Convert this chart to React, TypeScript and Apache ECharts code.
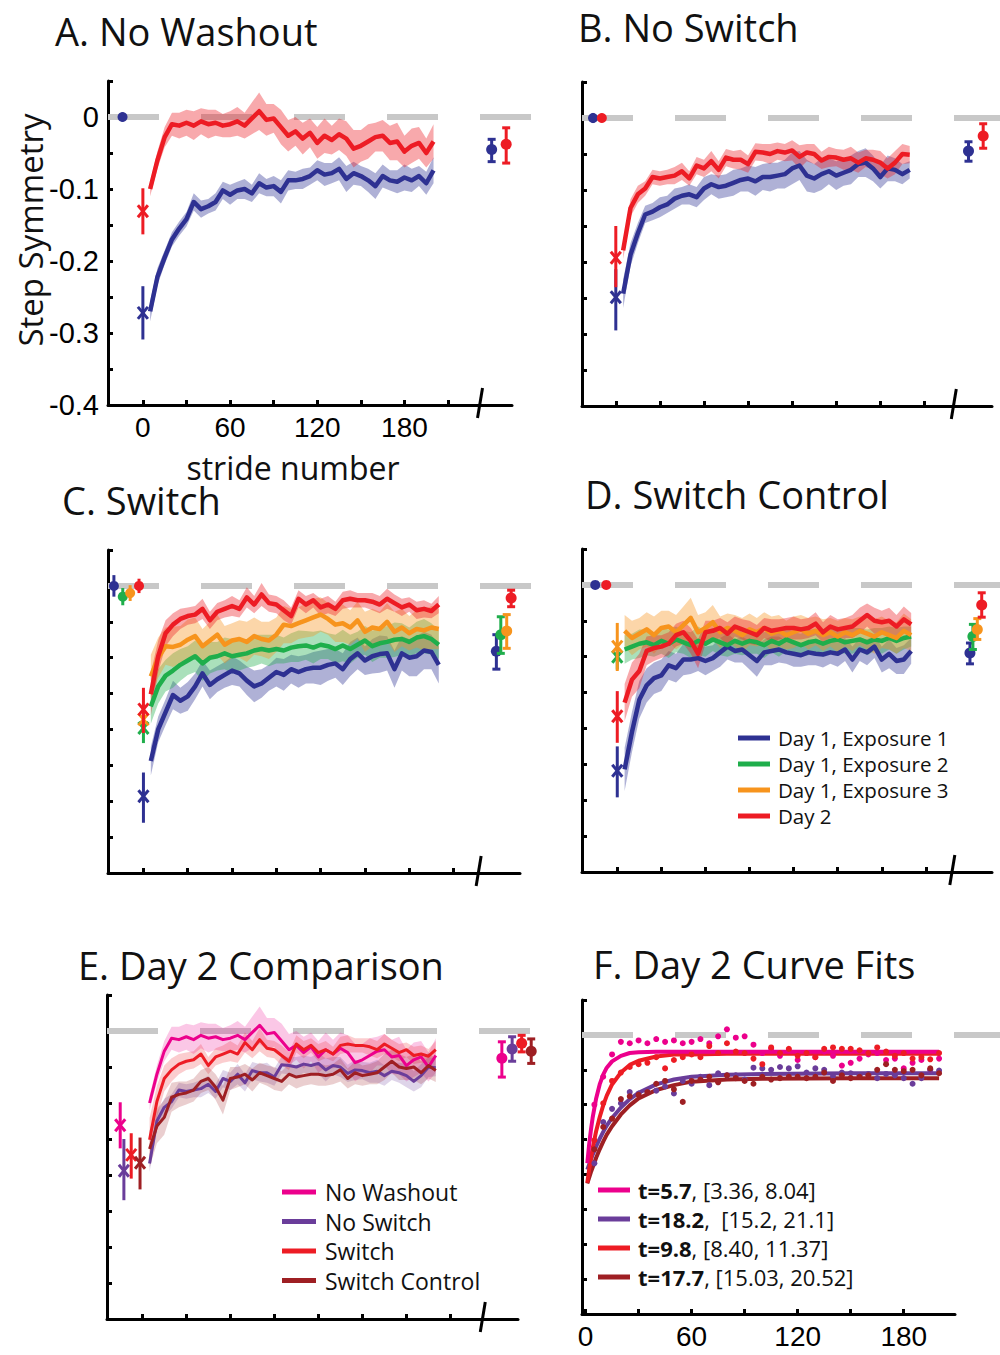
import React, { useEffect, useRef } from "react";
import * as echarts from "echarts";

// ---------------- DATA ----------------
const strides = [5, 10, 15, 20, 25, 30, 35, 40, 45, 50, 55, 60, 65, 70, 75, 80, 85, 90, 95, 100, 105, 110, 115, 120, 125, 130, 135, 140, 145, 150, 155, 160, 165, 170, 175, 180, 185, 190, 195, 200];

// A. No Washout
const nwDay1 = [-0.270, -0.222, -0.195, -0.170, -0.155, -0.142, -0.118, -0.128, -0.124, -0.118, -0.102, -0.108, -0.102, -0.100, -0.106, -0.092, -0.098, -0.096, -0.104, -0.088, -0.088, -0.086, -0.082, -0.074, -0.080, -0.078, -0.072, -0.086, -0.078, -0.082, -0.088, -0.096, -0.082, -0.088, -0.090, -0.084, -0.088, -0.082, -0.092, -0.074];
const nwDay1Sem = [0.014, 0.012, 0.010, 0.010, 0.010, 0.010, 0.012, 0.012, 0.010, 0.012, 0.012, 0.014, 0.012, 0.014, 0.012, 0.014, 0.012, 0.014, 0.016, 0.014, 0.012, 0.014, 0.012, 0.014, 0.016, 0.014, 0.016, 0.018, 0.016, 0.014, 0.016, 0.018, 0.016, 0.014, 0.016, 0.018, 0.016, 0.014, 0.016, 0.018];
const nwDay2 = [-0.100, -0.060, -0.028, -0.010, -0.012, -0.008, -0.012, -0.006, -0.010, -0.008, -0.012, -0.010, -0.006, -0.012, -0.002, 0.008, -0.004, -0.002, -0.014, -0.026, -0.020, -0.030, -0.022, -0.036, -0.026, -0.032, -0.024, -0.030, -0.044, -0.040, -0.034, -0.028, -0.026, -0.036, -0.034, -0.048, -0.040, -0.036, -0.050, -0.034];
const nwDay2Sem = [0.010, 0.012, 0.014, 0.016, 0.018, 0.018, 0.020, 0.018, 0.020, 0.018, 0.016, 0.018, 0.020, 0.018, 0.022, 0.026, 0.022, 0.020, 0.024, 0.022, 0.020, 0.022, 0.020, 0.022, 0.024, 0.020, 0.022, 0.024, 0.026, 0.022, 0.024, 0.020, 0.022, 0.024, 0.026, 0.022, 0.024, 0.022, 0.020, 0.024];

// B. No Switch
const nsDay1 = [-0.244, -0.190, -0.160, -0.134, -0.130, -0.124, -0.120, -0.112, -0.108, -0.106, -0.110, -0.098, -0.092, -0.096, -0.094, -0.090, -0.086, -0.084, -0.088, -0.082, -0.082, -0.080, -0.078, -0.070, -0.066, -0.080, -0.084, -0.078, -0.074, -0.080, -0.076, -0.072, -0.064, -0.062, -0.070, -0.082, -0.070, -0.072, -0.078, -0.072];
const nsDay1Sem = [0.020, 0.016, 0.014, 0.012, 0.012, 0.014, 0.012, 0.014, 0.012, 0.014, 0.014, 0.016, 0.014, 0.016, 0.016, 0.018, 0.016, 0.018, 0.020, 0.018, 0.020, 0.018, 0.020, 0.022, 0.020, 0.022, 0.020, 0.022, 0.018, 0.020, 0.018, 0.020, 0.018, 0.020, 0.018, 0.016, 0.018, 0.016, 0.014, 0.012];
const nsDay2 = [-0.184, -0.125, -0.106, -0.098, -0.082, -0.084, -0.082, -0.080, -0.074, -0.084, -0.066, -0.070, -0.060, -0.072, -0.055, -0.058, -0.058, -0.064, -0.047, -0.048, -0.050, -0.046, -0.048, -0.045, -0.054, -0.048, -0.050, -0.059, -0.054, -0.055, -0.058, -0.056, -0.062, -0.056, -0.058, -0.062, -0.070, -0.062, -0.050, -0.051];
const nsDay2Sem = [0.012, 0.012, 0.012, 0.010, 0.010, 0.010, 0.010, 0.012, 0.012, 0.010, 0.012, 0.012, 0.014, 0.012, 0.012, 0.012, 0.014, 0.012, 0.012, 0.012, 0.014, 0.012, 0.012, 0.014, 0.016, 0.012, 0.014, 0.012, 0.014, 0.012, 0.014, 0.016, 0.014, 0.012, 0.014, 0.016, 0.014, 0.016, 0.014, 0.012];

// C. Switch
const swExp1 = [-0.244, -0.200, -0.176, -0.152, -0.160, -0.154, -0.140, -0.122, -0.138, -0.130, -0.124, -0.118, -0.122, -0.132, -0.140, -0.136, -0.128, -0.120, -0.124, -0.116, -0.120, -0.116, -0.114, -0.114, -0.110, -0.108, -0.116, -0.102, -0.094, -0.104, -0.098, -0.095, -0.094, -0.116, -0.094, -0.100, -0.098, -0.090, -0.092, -0.110];
const swExp1Sem = [0.020, 0.018, 0.018, 0.020, 0.018, 0.020, 0.018, 0.018, 0.020, 0.018, 0.018, 0.020, 0.018, 0.020, 0.022, 0.020, 0.018, 0.020, 0.022, 0.020, 0.022, 0.020, 0.022, 0.024, 0.022, 0.020, 0.022, 0.024, 0.022, 0.020, 0.024, 0.026, 0.024, 0.026, 0.024, 0.026, 0.028, 0.026, 0.024, 0.026];
const swExp2 = [-0.168, -0.140, -0.125, -0.118, -0.110, -0.104, -0.098, -0.108, -0.100, -0.098, -0.094, -0.098, -0.096, -0.094, -0.090, -0.088, -0.090, -0.088, -0.090, -0.086, -0.084, -0.083, -0.086, -0.082, -0.084, -0.088, -0.083, -0.088, -0.082, -0.076, -0.084, -0.080, -0.078, -0.075, -0.074, -0.078, -0.072, -0.070, -0.074, -0.082];
const swExp2Sem = [0.024, 0.024, 0.022, 0.024, 0.022, 0.020, 0.022, 0.024, 0.022, 0.020, 0.022, 0.024, 0.022, 0.020, 0.022, 0.020, 0.022, 0.020, 0.018, 0.020, 0.022, 0.020, 0.022, 0.020, 0.018, 0.020, 0.022, 0.020, 0.018, 0.020, 0.022, 0.020, 0.022, 0.024, 0.022, 0.020, 0.022, 0.024, 0.022, 0.020];
const swExp3 = [-0.126, -0.100, -0.084, -0.085, -0.082, -0.075, -0.070, -0.084, -0.076, -0.068, -0.082, -0.076, -0.074, -0.078, -0.070, -0.074, -0.076, -0.068, -0.054, -0.056, -0.052, -0.048, -0.044, -0.040, -0.046, -0.054, -0.052, -0.058, -0.048, -0.064, -0.058, -0.060, -0.050, -0.064, -0.058, -0.066, -0.060, -0.062, -0.058, -0.060];
const swExp3Sem = [0.030, 0.028, 0.026, 0.028, 0.026, 0.028, 0.026, 0.024, 0.026, 0.028, 0.026, 0.024, 0.026, 0.028, 0.026, 0.024, 0.026, 0.024, 0.026, 0.024, 0.022, 0.024, 0.026, 0.024, 0.022, 0.024, 0.026, 0.024, 0.026, 0.028, 0.026, 0.024, 0.026, 0.028, 0.026, 0.024, 0.026, 0.028, 0.030, 0.028];
const swDay2 = [-0.151, -0.098, -0.066, -0.054, -0.046, -0.042, -0.040, -0.032, -0.048, -0.036, -0.032, -0.028, -0.032, -0.016, -0.026, -0.012, -0.024, -0.026, -0.034, -0.042, -0.018, -0.026, -0.020, -0.030, -0.026, -0.032, -0.020, -0.018, -0.020, -0.020, -0.022, -0.026, -0.018, -0.024, -0.030, -0.026, -0.034, -0.032, -0.035, -0.026];
const swDay2Sem = [0.030, 0.022, 0.018, 0.016, 0.014, 0.012, 0.012, 0.014, 0.012, 0.012, 0.012, 0.014, 0.012, 0.014, 0.012, 0.016, 0.012, 0.012, 0.014, 0.012, 0.012, 0.012, 0.010, 0.012, 0.012, 0.010, 0.012, 0.012, 0.010, 0.010, 0.012, 0.012, 0.014, 0.012, 0.012, 0.010, 0.012, 0.012, 0.010, 0.012];

// D. Switch Control
const scExp1 = [-0.257, -0.205, -0.160, -0.140, -0.130, -0.126, -0.112, -0.116, -0.104, -0.104, -0.102, -0.106, -0.102, -0.094, -0.086, -0.092, -0.090, -0.098, -0.106, -0.094, -0.092, -0.090, -0.094, -0.096, -0.098, -0.094, -0.096, -0.097, -0.094, -0.096, -0.090, -0.104, -0.090, -0.094, -0.086, -0.104, -0.096, -0.106, -0.104, -0.092];
const scExp1Sem = [0.030, 0.028, 0.026, 0.024, 0.022, 0.022, 0.020, 0.020, 0.022, 0.020, 0.018, 0.020, 0.018, 0.020, 0.018, 0.016, 0.018, 0.020, 0.022, 0.018, 0.020, 0.018, 0.016, 0.018, 0.016, 0.018, 0.016, 0.018, 0.016, 0.018, 0.016, 0.018, 0.016, 0.018, 0.016, 0.018, 0.020, 0.018, 0.020, 0.018];
const scExp2 = [-0.090, -0.086, -0.082, -0.080, -0.084, -0.078, -0.082, -0.076, -0.080, -0.084, -0.078, -0.082, -0.076, -0.080, -0.084, -0.078, -0.082, -0.078, -0.080, -0.084, -0.078, -0.082, -0.076, -0.080, -0.084, -0.080, -0.078, -0.082, -0.078, -0.076, -0.080, -0.078, -0.076, -0.080, -0.076, -0.078, -0.074, -0.078, -0.074, -0.072];
const scExp2Sem = [0.020, 0.018, 0.020, 0.018, 0.016, 0.018, 0.020, 0.018, 0.016, 0.018, 0.020, 0.018, 0.016, 0.018, 0.016, 0.018, 0.016, 0.018, 0.016, 0.018, 0.016, 0.018, 0.016, 0.014, 0.016, 0.018, 0.016, 0.018, 0.016, 0.018, 0.016, 0.018, 0.016, 0.018, 0.016, 0.018, 0.016, 0.018, 0.016, 0.014];
const scExp3 = [-0.064, -0.074, -0.068, -0.062, -0.070, -0.060, -0.058, -0.066, -0.056, -0.046, -0.066, -0.060, -0.052, -0.066, -0.060, -0.064, -0.070, -0.062, -0.066, -0.060, -0.068, -0.064, -0.070, -0.066, -0.062, -0.068, -0.064, -0.070, -0.066, -0.072, -0.066, -0.070, -0.064, -0.068, -0.072, -0.066, -0.070, -0.074, -0.064, -0.070];
const scExp3Sem = [0.022, 0.024, 0.022, 0.024, 0.026, 0.024, 0.022, 0.024, 0.026, 0.028, 0.024, 0.022, 0.024, 0.022, 0.020, 0.022, 0.024, 0.022, 0.020, 0.022, 0.024, 0.022, 0.020, 0.022, 0.020, 0.022, 0.020, 0.022, 0.020, 0.022, 0.020, 0.022, 0.020, 0.022, 0.024, 0.022, 0.020, 0.022, 0.024, 0.022];
const scDay2 = [-0.164, -0.132, -0.120, -0.092, -0.088, -0.086, -0.082, -0.070, -0.066, -0.078, -0.096, -0.066, -0.064, -0.060, -0.068, -0.058, -0.062, -0.066, -0.070, -0.060, -0.064, -0.062, -0.060, -0.060, -0.062, -0.060, -0.054, -0.066, -0.058, -0.062, -0.060, -0.058, -0.050, -0.042, -0.050, -0.052, -0.050, -0.058, -0.048, -0.055];
const scDay2Sem = [0.026, 0.024, 0.024, 0.020, 0.018, 0.016, 0.016, 0.016, 0.016, 0.018, 0.020, 0.016, 0.014, 0.014, 0.016, 0.014, 0.014, 0.016, 0.014, 0.014, 0.016, 0.014, 0.014, 0.016, 0.014, 0.014, 0.016, 0.014, 0.016, 0.014, 0.014, 0.016, 0.018, 0.016, 0.018, 0.016, 0.018, 0.016, 0.018, 0.016];

// point estimates: [mean, lower, upper]
const nwBaseline = [[0, -0.006, 0.006]];
const nwFirst = [[-0.272, -0.309, -0.235], [-0.131, -0.163, -0.099]];
const nwPost = [[-0.045, -0.062, -0.031], [-0.038, -0.064, -0.015]];
const nsBaseline = [[0, -0.007, 0.007], [0, -0.006, 0.006]];
const nsFirst = [[-0.249, -0.295, -0.210], [-0.194, -0.235, -0.150]];
const nsPost = [[-0.046, -0.060, -0.033], [-0.025, -0.042, -0.008]];
const swBaseline = [[0, -0.015, 0.015], [-0.015, -0.027, -0.003], [-0.010, -0.021, 0.001], [0, -0.010, 0.010]];
const swFirst = [[-0.293, -0.330, -0.260], [-0.198, -0.219, -0.172], [-0.186, -0.205, -0.165], [-0.172, -0.205, -0.142]];
const swPost = [[-0.091, -0.116, -0.068], [-0.068, -0.094, -0.043], [-0.063, -0.087, -0.040], [-0.017, -0.029, -0.006]];
const scBaseline = [[0, -0.004, 0.004], [0, -0.004, 0.004]];
const scFirst = [[-0.259, -0.296, -0.225], [-0.100, -0.118, -0.086], [-0.086, -0.120, -0.053], [-0.183, -0.220, -0.148]];
const scPost = [[-0.095, -0.110, -0.081], [-0.072, -0.090, -0.055], [-0.062, -0.076, -0.047], [-0.028, -0.045, -0.011]];

// F. exponential fits
const fitStrides = [1, 2, 3, 4, 6, 8, 10, 12, 15, 20, 25, 30, 40, 50, 60, 80, 100, 150, 200];
const fitNoWashout = [-0.184, -0.158, -0.137, -0.119, -0.091, -0.071, -0.057, -0.047, -0.038, -0.030, -0.026, -0.025, -0.024, -0.024, -0.024, -0.024, -0.024, -0.024, -0.024];
const fitNoSwitch = [-0.193, -0.186, -0.179, -0.172, -0.160, -0.149, -0.139, -0.130, -0.119, -0.104, -0.092, -0.083, -0.071, -0.064, -0.060, -0.057, -0.056, -0.055, -0.055];
const fitSwitch = [-0.212, -0.194, -0.178, -0.163, -0.138, -0.118, -0.101, -0.087, -0.071, -0.054, -0.043, -0.037, -0.031, -0.028, -0.028, -0.027, -0.027, -0.027, -0.027];
const fitSwitchControl = [-0.213, -0.205, -0.197, -0.190, -0.176, -0.164, -0.153, -0.143, -0.131, -0.114, -0.101, -0.091, -0.079, -0.072, -0.067, -0.064, -0.063, -0.062, -0.062];

const xTicks = [0, 30, 60, 90, 120, 150, 180, 210];
const xTicksF = [0, 30, 60, 90, 120, 150, 180];
const xLabels = [0, 60, 120, 180];
const yTicks = [-0.4, -0.35, -0.3, -0.25, -0.2, -0.15, -0.1, -0.05, 0, 0.05];
const yLabels = [0, -0.1, -0.2, -0.3, -0.4];

// ---------------- STYLE ----------------
const BLUE = "#2e3192";
const GREEN = "#1fae4b";
const ORANGE = "#f7941d";
const RED = "#ed1c24";
const MAGENTA = "#ec008c";
const PURPLE = "#6a3d9a";
const DARKRED = "#9e1f23";
const SANS = "'Open Sans', sans-serif";
const NUM = "'Liberation Sans', Arial, sans-serif";

const grids = [
  { left: 108, top: 81, width: 404, height: 324, xMin: -24, xMax: 254 },
  { left: 582, top: 82, width: 410, height: 324, xMin: -23, xMax: 256 },
  { left: 108, top: 550, width: 412, height: 323, xMin: -24, xMax: 255 },
  { left: 582, top: 549, width: 410, height: 323, xMin: -24, xMax: 255 },
  { left: 107, top: 995, width: 411, height: 324, xMin: -24, xMax: 256 },
  { left: 582, top: 1000, width: 373, height: 314, xMin: -2, xMax: 209 },
];

function zeroLine(g: number, xMin: number) {
  return {
    type: "custom", xAxisIndex: g, yAxisIndex: g, silent: true, clip: false, z: 1,
    data: [[xMin, 0]],
    renderItem: (_p: any, api: any) => {
      const a = api.coord([xMin, 0]);
      return { type: "line", shape: { x1: a[0], y1: a[1], x2: a[0] + 424, y2: a[1] }, style: { stroke: "#c8c8c8", lineWidth: 6, lineDash: [51, 42] } };
    },
  };
}

function breakMark(g: number, x: number) {
  return {
    type: "custom", xAxisIndex: g, yAxisIndex: g, silent: true, clip: false, z: 6,
    data: [[x, -0.4]],
    renderItem: (_p: any, api: any) => {
      const a = api.coord([api.value(0), api.value(1)]);
      return { type: "line", shape: { x1: a[0] - 2.5, y1: a[1] + 13, x2: a[0] + 2.5, y2: a[1] - 17 }, style: { stroke: "#000", lineWidth: 3 } };
    },
  };
}

function band(g: number, xs: number[], mean: number[], sem: number[], color: string, opacity: number) {
  return {
    type: "custom", xAxisIndex: g, yAxisIndex: g, silent: true, clip: false, z: 2,
    data: [[xs[0], mean[0]]],
    renderItem: (_p: any, api: any) => {
      const n = Math.min(xs.length, mean.length, sem.length);
      const pts: number[][] = [];
      for (let i = 0; i < n; i++) pts.push(api.coord([xs[i], mean[i] + sem[i]]));
      for (let i = n - 1; i >= 0; i--) pts.push(api.coord([xs[i], mean[i] - sem[i]]));
      return { type: "polygon", shape: { points: pts }, style: { fill: color, opacity } };
    },
  };
}

function meanLine(g: number, xs: number[], ys: number[], color: string, width: number) {
  const n = Math.min(xs.length, ys.length);
  return {
    type: "line", xAxisIndex: g, yAxisIndex: g, silent: true, z: 2,
    data: xs.slice(0, n).map((x, i) => [x, ys[i]]),
    showSymbol: false, symbol: "none",
    lineStyle: { color, width, join: "round" }, itemStyle: { color },
  };
}

function marker(g: number, kind: string, x: number, v: number[], color: string) {
  return {
    type: "custom", xAxisIndex: g, yAxisIndex: g, silent: true, clip: false, z: 5,
    dimensions: ["x", "y", "lo", "hi"],
    encode: { x: 0, y: [1, 2, 3] },
    data: [[x, v[0], v[1], v[2]]],
    renderItem: (_p: any, api: any) => {
      const p = api.coord([api.value(0), api.value(1)]);
      const lo = api.coord([api.value(0), api.value(2)]);
      const hi = api.coord([api.value(0), api.value(3)]);
      const st = { stroke: color, lineWidth: 3 };
      const ch: any[] = [{ type: "line", shape: { x1: p[0], y1: lo[1], x2: p[0], y2: hi[1] }, style: st }];
      if (kind === "x") {
        ch.push({ type: "line", shape: { x1: p[0] - 5, y1: p[1] - 6, x2: p[0] + 5, y2: p[1] + 6 }, style: st });
        ch.push({ type: "line", shape: { x1: p[0] - 5, y1: p[1] + 6, x2: p[0] + 5, y2: p[1] - 6 }, style: st });
      } else if (kind === "post") {
        ch.push({ type: "line", shape: { x1: p[0] - 4, y1: lo[1], x2: p[0] + 4, y2: lo[1] }, style: st });
        ch.push({ type: "line", shape: { x1: p[0] - 4, y1: hi[1], x2: p[0] + 4, y2: hi[1] }, style: st });
        ch.push({ type: "circle", shape: { cx: p[0], cy: p[1], r: 5.5 }, style: { fill: color } });
      } else {
        ch.push({ type: "circle", shape: { cx: p[0], cy: p[1], r: 5 }, style: { fill: color } });
      }
      return { type: "group", children: ch };
    },
  };
}

type Group = { m: number[]; s: number[]; c: string };

function buildOption() {
  const series: any[] = [];
  const groupsA: Group[] = [{ m: nwDay1, s: nwDay1Sem, c: BLUE }, { m: nwDay2, s: nwDay2Sem, c: RED }];
  const groupsB: Group[] = [{ m: nsDay1, s: nsDay1Sem, c: BLUE }, { m: nsDay2, s: nsDay2Sem, c: RED }];
  const groupsC: Group[] = [
    { m: swExp1, s: swExp1Sem, c: BLUE }, { m: swExp2, s: swExp2Sem, c: GREEN },
    { m: swExp3, s: swExp3Sem, c: ORANGE }, { m: swDay2, s: swDay2Sem, c: RED },
  ];
  const groupsD: Group[] = [
    { m: scExp1, s: scExp1Sem, c: BLUE }, { m: scExp2, s: scExp2Sem, c: GREEN },
    { m: scExp3, s: scExp3Sem, c: ORANGE }, { m: scDay2, s: scDay2Sem, c: RED },
  ];
  const groupsE: Group[] = [
    { m: nwDay2, s: nwDay2Sem, c: MAGENTA }, { m: nsDay2, s: nsDay2Sem, c: PURPLE },
    { m: swDay2, s: swDay2Sem, c: RED }, { m: scDay2, s: scDay2Sem, c: DARKRED },
  ];

  const panels = [
    { g: 0, groups: groupsA, lw: 4.5, op: 0.38, base: nwBaseline, baseC: [BLUE], baseX: [-14], first: nwFirst, firstC: [BLUE, RED], firstX: [0, 0], post: nwPost, postC: [BLUE, RED], postX: [240, 250], brk: 232 },
    { g: 1, groups: groupsB, lw: 4.5, op: 0.38, base: nsBaseline, baseC: [BLUE, RED], baseX: [-15.5, -9.5], first: nsFirst, firstC: [BLUE, RED], firstX: [0, 0], post: nsPost, postC: [BLUE, RED], postX: [240, 250], brk: 230 },
    { g: 2, groups: groupsC, lw: 4.5, op: 0.38, base: swBaseline, baseC: [BLUE, GREEN, ORANGE, RED], baseX: [-20, -14, -9, -3], first: [swFirst[1], swFirst[2], swFirst[3], swFirst[0]], firstC: [GREEN, ORANGE, RED, BLUE], firstX: [0, 0, 0, 0], post: swPost, postC: [BLUE, GREEN, ORANGE, RED], postX: [239, 242, 246, 249], brk: 227 },
    { g: 3, groups: groupsD, lw: 4.5, op: 0.38, base: scBaseline, baseC: [BLUE, RED], baseX: [-15, -7.5], first: [scFirst[1], scFirst[2], scFirst[3], scFirst[0]], firstC: [GREEN, ORANGE, RED, BLUE], firstX: [0, 0, 0, 0], post: scPost, postC: [BLUE, GREEN, ORANGE, RED], postX: [240, 242, 245, 248], brk: 228 },
    { g: 4, groups: groupsE, lw: 3, op: 0.22, base: [], baseC: [], baseX: [], first: [nwFirst[1], nsFirst[1], swFirst[3], scFirst[3]], firstC: [MAGENTA, PURPLE, RED, DARKRED], firstX: [-15, -12.5, -7.5, -1.5], post: [nwPost[1], nsPost[1], swPost[3], scPost[3]], postC: [MAGENTA, PURPLE, RED, DARKRED], postX: [245, 252, 258.5, 265], brk: 232 },
  ];

  panels.forEach((p) => {
    series.push(zeroLine(p.g, grids[p.g].xMin));
    p.groups.forEach((gr) => {
      series.push(band(p.g, strides, gr.m, gr.s, gr.c, p.op));
      series.push(meanLine(p.g, strides, gr.m, gr.c, p.lw));
    });
    p.base.forEach((v, i) => series.push(marker(p.g, "base", p.baseX[i], v, p.baseC[i])));
    p.first.forEach((v, i) => series.push(marker(p.g, "x", p.firstX[i], v, p.firstC[i])));
    p.post.forEach((v, i) => series.push(marker(p.g, "post", p.postX[i], v, p.postC[i])));
    series.push(breakMark(p.g, p.brk));
  });

  // Panel F
  series.push(zeroLine(5, grids[5].xMin));
  const dots: [number[], string][] = [[nwDay2, MAGENTA], [nsDay2, PURPLE], [swDay2, RED], [scDay2, DARKRED]];
  dots.forEach(([arr, c]) => {
    series.push({
      type: "scatter", xAxisIndex: 5, yAxisIndex: 5, silent: true, z: 3, symbolSize: 6,
      data: strides.map((x, i) => [x, arr[i]]), itemStyle: { color: c, opacity: 1 },
    });
  });
  const fits: [number[], string][] = [[fitNoSwitch, PURPLE], [fitSwitchControl, DARKRED], [fitSwitch, RED], [fitNoWashout, MAGENTA]];
  fits.forEach(([arr, c]) => series.push(meanLine(5, fitStrides, arr, c, 4)));

  const xAxis = grids.map((gd, i) => ({
    type: "value", gridIndex: i, min: gd.xMin, max: gd.xMax,
    axisLine: { show: true, onZero: false, lineStyle: { color: "#000", width: 3 } },
    axisTick: { show: true, inside: true, length: 5, lineStyle: { color: "#000", width: 3 }, customValues: i === 5 ? xTicksF : xTicks },
    axisLabel: { show: i === 0 || i === 5, customValues: xLabels, fontSize: 28, fontFamily: NUM, color: "#000", margin: 8 },
    splitLine: { show: false },
  }));
  const yAxis = grids.map((_gd, i) => ({
    type: "value", gridIndex: i, min: -0.4, max: 0.05,
    axisLine: { show: true, onZero: false, lineStyle: { color: "#000", width: 3 } },
    axisTick: { show: true, inside: true, length: 5, lineStyle: { color: "#000", width: 3 }, customValues: yTicks },
    axisLabel: { show: i === 0, customValues: yLabels, fontSize: 29, fontFamily: NUM, color: "#000", margin: 9, formatter: (v: number) => (v === 0 ? "0" : String(v)) },
    splitLine: { show: false },
  }));

  const txt = (text: string, x: number, y: number, size: number, align = "left", extra: any = {}, lh?: number) => ({
    type: "text", x, y, z: 100, ...extra,
    style: Object.assign(
      { text, fontSize: size, fontFamily: SANS, fill: "#111", align, verticalAlign: "middle", textAlign: align, textVerticalAlign: "middle" },
      lh ? { lineHeight: lh } : {}
    ),
  });
  const seg = (x1: number, x2: number, y: number, c: string) => ({
    type: "line", z: 100, shape: { x1, y1: y, x2, y2: y }, style: { stroke: c, lineWidth: 5 },
  });

  const graphic: any[] = [
    txt("A. No Washout", 55, 31, 38),
    txt("B. No Switch", 578, 27, 38),
    txt("C. Switch", 62, 500, 38),
    txt("D. Switch Control", 585, 494, 38),
    txt("E. Day 2 Comparison", 78, 965, 38),
    txt("F. Day 2 Curve Fits", 593, 964, 38),
    txt("Step Symmetry", 30, 230, 33, "center", { rotation: Math.PI / 2 }),
    txt("stride number", 293, 467, 32, "center"),
  ];
  const legD = [["Day 1, Exposure 1", BLUE], ["Day 1, Exposure 2", GREEN], ["Day 1, Exposure 3", ORANGE], ["Day 2", RED]];
  const legDY = [738, 764, 790, 816];
  legD.forEach(([t, c], i) => { graphic.push(seg(738, 770, legDY[i], c)); graphic.push(txt(t, 778, legDY[i], 20.5, "left", {}, 20.5)); });
  const legE = [["No Washout", MAGENTA], ["No Switch", PURPLE], ["Switch", RED], ["Switch Control", DARKRED]];
  const legEY = [1192, 1221.5, 1251, 1280.5];
  legE.forEach(([t, c], i) => { graphic.push(seg(282, 316, legEY[i], c)); graphic.push(txt(t, 325, legEY[i], 23, "left", {}, 23)); });
  const legF = [["t=5.7", ", [3.36, 8.04]", MAGENTA], ["t=18.2", ",  [15.2, 21.1]", PURPLE], ["t=9.8", ", [8.40, 11.37]", RED], ["t=17.7", ", [15.03, 20.52]", DARKRED]];
  const legFY = [1190, 1219, 1248, 1277];
  legF.forEach(([b, r, c], i) => {
    graphic.push(seg(598, 630, legFY[i], c));
    graphic.push({
      type: "text", x: 638, y: legFY[i], z: 100,
      style: {
        text: "{b|" + b + "}" + r, fontSize: 22, fontFamily: SANS, fill: "#111", lineHeight: 22,
        align: "left", verticalAlign: "middle", textAlign: "left", textVerticalAlign: "middle",
        rich: { b: { fontSize: 22, fontFamily: SANS, fontWeight: "bold", fill: "#111", lineHeight: 22 } },
      },
    });
  });

  return {
    animation: false,
    backgroundColor: "#fff",
    grid: grids.map((gd) => ({ left: gd.left, top: gd.top, width: gd.width, height: gd.height, containLabel: false })),
    xAxis, yAxis, series, graphic,
  };
}

export default function App() {
  const ref = useRef<HTMLDivElement>(null);
  useEffect(() => {
    if (!ref.current) return;
    const chart = echarts.init(ref.current, undefined, { renderer: "svg" });
    chart.setOption(buildOption() as any);
    return () => chart.dispose();
  }, []);
  return <div ref={ref} style={{ position: "absolute", left: 0, top: 0, width: 1000, height: 1355, background: "#fff" }} />;
}
